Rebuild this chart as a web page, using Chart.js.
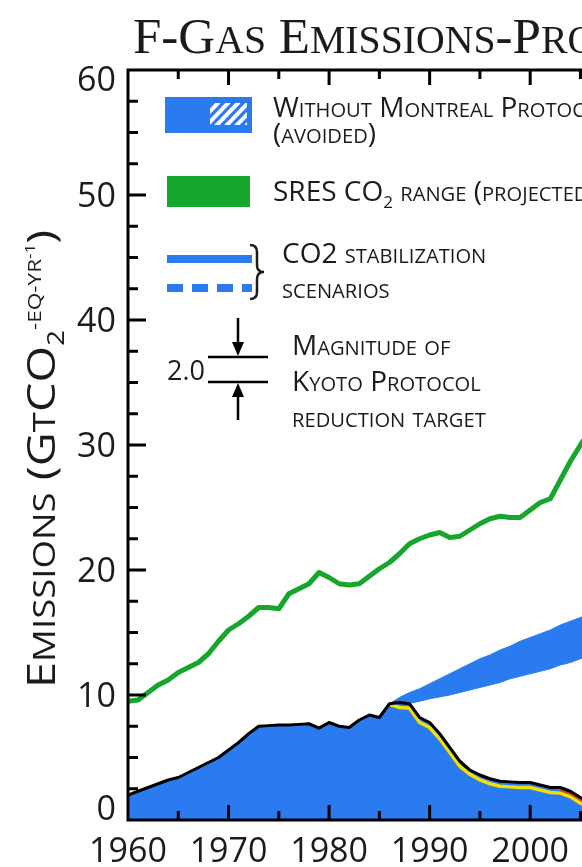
<!DOCTYPE html>
<html>
<head>
<meta charset="utf-8">
<script src="https://cdn.jsdelivr.net/npm/chart.js@4.4.1/dist/chart.umd.min.js"></script>
<style>
html,body{margin:0;padding:0;overflow:hidden;background:#fff;width:582px;height:867px}
#wrap{position:absolute;left:0;top:0;width:700px;height:867px}
</style>
</head>
<body>
<div id="wrap"><canvas id="c" width="700" height="867"></canvas></div>
<script>
// ---------------- data ----------------
const years = [1960,1961,1962,1963,1964,1965,1966,1967,1968,1969,
               1970,1971,1972,1973,1974,1975,1976,1977,1978,1979,
               1980,1981,1982,1983,1984,1985,1986,1987,1988,1989,
               1990,1991,1992,1993,1994,1995,1996,1997,1998,1999,
               2000,2001,2002,2003,2004,2005,2006];

// F-gas emissions (black line, blue area below)
const fgasEmissions = [2.0,2.3,2.6,2.9,3.2,3.4,3.8,4.2,4.6,5.0,
                       5.6,6.2,6.9,7.5,7.55,7.6,7.6,7.65,7.7,7.35,
                       7.8,7.5,7.4,8.0,8.4,8.2,9.3,9.4,9.3,8.2,
                       7.8,6.9,5.8,4.7,4.0,3.6,3.3,3.1,3.05,3.0,
                       3.0,2.8,2.6,2.6,2.3,1.8,1.4];

// yellow line (below the black one after the Montreal Protocol)
const withProtocol = [null,null,null,null,null,null,null,null,null,null,
                      null,null,null,null,null,null,null,null,null,null,
                      null,null,null,null,null,null,9.25,9.0,8.95,7.8,
                      7.4,6.5,5.4,4.3,3.65,3.2,2.9,2.7,2.65,2.6,
                      2.6,2.4,2.2,2.15,1.85,1.35,1.0];

// thin red line at the end
const redLine = [null,null,null,null,null,null,null,null,null,null,
                 null,null,null,null,null,null,null,null,null,null,
                 null,null,null,null,null,null,null,null,null,null,
                 null,null,null,null,null,null,null,null,null,null,
                 null,null,null,2.4,2.1,1.6,1.2];

// blue band: without Montreal Protocol (avoided)
const avoidedUpper = [null,null,null,null,null,null,null,null,null,null,
                      null,null,null,null,null,null,null,null,null,null,
                      null,null,null,null,null,null,9.3,9.8,10.2,10.5,
                      10.9,11.3,11.7,12.1,12.5,12.9,13.2,13.6,13.9,14.3,
                      14.6,14.9,15.2,15.6,15.9,16.2,16.6];
const avoidedLower = [null,null,null,null,null,null,null,null,null,null,
                      null,null,null,null,null,null,null,null,null,null,
                      null,null,null,null,null,null,9.3,9.35,9.35,9.5,
                      9.7,9.85,10.0,10.2,10.4,10.6,10.8,11.0,11.3,11.5,
                      11.7,11.9,12.1,12.4,12.6,12.9,13.2];

// green line: CO2 emissions
const co2Emissions = [9.5,9.6,10.2,10.8,11.2,11.8,12.2,12.6,13.3,14.3,
                      15.2,15.7,16.3,17.0,17.0,16.9,18.1,18.5,18.9,19.8,
                      19.4,18.9,18.8,18.9,19.5,20.1,20.6,21.3,22.1,22.5,
                      22.8,23.0,22.6,22.7,23.2,23.7,24.1,24.3,24.2,24.2,
                      24.8,25.4,25.7,27.2,28.7,30.0,31.2];

const xTickLabels = [1960,1970,1980,1990,2000,2010];
const yTickLabels = [0,10,20,30,40,50,60];

// ---------------- styles ----------------
const BLUE = '#2a7bef', GREEN = '#16a62b', YELLOW = '#f3e000', RED = '#d8401c';
const SANS = '"Open Sans", "DejaVu Sans", sans-serif';
const SERIF = '"Liberation Serif", "DejaVu Serif", serif';
const INK = '#1b1b1b';

const pts = arr => years.map((y,i)=>({x:y, y:arr[i]}));

// ---------------- text helpers ----------------
function scRuns(str, big, ratio, dy){
  const runs=[];
  for(const ch of str){
    const small=/[a-z]/.test(ch);
    const s = small? big*ratio : big;
    const t = small? ch.toUpperCase() : ch;
    const last=runs[runs.length-1];
    if(last && last.s===s && last.dy===(dy||0)) last.t+=t; else runs.push({t, s, dy:dy||0});
  }
  return runs;
}
function runsWidth(ctx, runs, fam){
  let w=0; for(const r of runs){ ctx.font=`${r.s}px ${fam}`; w+=ctx.measureText(r.t).width; } return w;
}
function drawRuns(ctx, runs, x, y, fam){
  let cx=x;
  for(const r of runs){ ctx.font=`${r.s}px ${fam}`; ctx.fillText(r.t, cx, y+r.dy); cx+=ctx.measureText(r.t).width; }
  return cx-x;
}

// ---------------- decoration plugin ----------------
const deco = {
  id:'deco',
  afterDraw(chart){
    const ctx=chart.ctx, xs=chart.scales.x, ys=chart.scales.y, a=chart.chartArea;
    ctx.save();
    // frame
    ctx.strokeStyle='#000'; ctx.lineWidth=3; ctx.lineCap='square';
    ctx.beginPath();
    ctx.moveTo(a.left,a.bottom); ctx.lineTo(a.left,a.top); ctx.lineTo(a.right,a.top); ctx.lineTo(a.right,a.bottom); ctx.closePath();
    ctx.stroke();
    ctx.lineCap='butt';
    // x ticks (inward) every 5 years
    for(let yr=xs.min+5; yr<xs.max; yr+=5){
      const px=xs.getPixelForValue(yr);
      const L=(yr%10===0)?15:9;
      ctx.beginPath();
      ctx.moveTo(px,a.bottom); ctx.lineTo(px,a.bottom-L);
      ctx.moveTo(px,a.top); ctx.lineTo(px,a.top+L);
      ctx.stroke();
    }
    // y ticks (inward) every 2.5
    for(let v=2.5; v<ys.max; v+=2.5){
      const py=ys.getPixelForValue(v);
      const L=(v%10===0)?18:10;
      ctx.beginPath();
      ctx.moveTo(a.left,py); ctx.lineTo(a.left+L,py);
      ctx.moveTo(a.right,py); ctx.lineTo(a.right-L,py);
      ctx.stroke();
    }
    // tick labels
    ctx.fillStyle=INK;
    ctx.font=`34px ${SANS}`;
    ctx.textAlign='center'; ctx.textBaseline='alphabetic';
    for(const t of xTickLabels){ ctx.fillText(String(t), xs.getPixelForValue(t), 862); }
    ctx.textAlign='right';
    for(const t of yTickLabels){
      let cy=ys.getPixelForValue(t);
      if(t===ys.min) cy-=12;
      if(t===ys.max) cy+=9;
      ctx.fillText(String(t), a.left-12, cy+12);
    }
    ctx.textAlign='left';

    // chart title
    const tRuns=scRuns('F-Gas Emissions-Projections', 51, 0.78);
    drawRuns(ctx, tRuns, 133, 53, SERIF);

    // y axis title (rotated), fitted to its length in the reference
    const f=39;
    const yRuns=[
      ...scRuns('Emissions (Gt', f, 0.78),
      {t:'CO', s:f, dy:0},
      {t:'2', s:f*0.6, dy:f*0.22},
      {t:'-EQ-YR', s:f*0.48, dy:-f*0.36},
      {t:'-1', s:f*0.36, dy:-f*0.52},
      {t:')', s:f, dy:0}
    ];
    ctx.save();
    ctx.translate(55, 459);
    ctx.rotate(-Math.PI/2);
    const yw=runsWidth(ctx,yRuns,SANS);
    const sx=458/yw;
    ctx.scale(sx,1);
    drawRuns(ctx, yRuns, -yw/2, 0, SANS);
    ctx.restore();

    // ---------- legend ----------
    const LF=28, R=0.72;
    // blue box with hatch
    ctx.fillStyle=BLUE; ctx.fillRect(165,97,87,36);
    ctx.save();
    ctx.beginPath(); ctx.rect(210,103,37,22); ctx.clip();
    ctx.strokeStyle='#fff'; ctx.lineWidth=4;
    for(let x0=196; x0<262; x0+=10){ ctx.beginPath(); ctx.moveTo(x0,126); ctx.lineTo(x0+23,102); ctx.stroke(); }
    ctx.restore();
    ctx.fillStyle=INK;
    drawRuns(ctx, scRuns('Without Montreal Protocol', LF, R), 273, 117, SANS);
    drawRuns(ctx, scRuns('(avoided)', LF, R), 273, 143, SANS);
    // green box
    ctx.fillStyle=GREEN; ctx.fillRect(167,176,83,31);
    ctx.fillStyle=INK;
    drawRuns(ctx, [{t:'SRES CO', s:LF, dy:0},{t:'2', s:17, dy:7}, ...scRuns(' range (projected)', LF, R)], 273, 201, SANS);
    // solid and dashed lines
    ctx.fillStyle=BLUE; ctx.fillRect(167,255,85,8);
    ctx.strokeStyle=BLUE; ctx.lineWidth=8; ctx.setLineDash([16,9]);
    ctx.beginPath(); ctx.moveTo(167,288); ctx.lineTo(252,288); ctx.stroke();
    ctx.setLineDash([]);
    // brace
    ctx.strokeStyle=INK; ctx.lineWidth=2.5;
    ctx.beginPath();
    ctx.moveTo(250,245); ctx.quadraticCurveTo(257,245,257,252); ctx.lineTo(257,265);
    ctx.quadraticCurveTo(257,272,264,272); ctx.quadraticCurveTo(257,272,257,279);
    ctx.lineTo(257,292); ctx.quadraticCurveTo(257,299,250,299);
    ctx.stroke();
    ctx.fillStyle=INK;
    drawRuns(ctx, [{t:'CO2', s:LF, dy:0}, ...scRuns(' stabilization', LF, R)], 282, 263, SANS);
    drawRuns(ctx, scRuns('scenarios', LF, R), 282, 298, SANS);
    // Kyoto marker
    ctx.strokeStyle='#000'; ctx.lineWidth=2.5;
    ctx.beginPath();
    ctx.moveTo(208,357); ctx.lineTo(268,357);
    ctx.moveTo(208,382); ctx.lineTo(268,382);
    ctx.moveTo(238,318); ctx.lineTo(238,345);
    ctx.moveTo(238,395); ctx.lineTo(238,420);
    ctx.stroke();
    ctx.fillStyle='#000';
    ctx.beginPath(); ctx.moveTo(232,342); ctx.lineTo(244,342); ctx.lineTo(238,356); ctx.closePath(); ctx.fill();
    ctx.beginPath(); ctx.moveTo(232,397); ctx.lineTo(244,397); ctx.lineTo(238,383); ctx.closePath(); ctx.fill();
    ctx.fillStyle=INK;
    ctx.font=`27px ${SANS}`;
    ctx.textAlign='right'; ctx.fillText('2.0', 205, 380); ctx.textAlign='left';
    drawRuns(ctx, scRuns('Magnitude of', LF, R), 292, 355, SANS);
    drawRuns(ctx, scRuns('Kyoto Protocol', LF, R), 292, 391, SANS);
    drawRuns(ctx, scRuns('reduction target', LF, R), 292, 427, SANS);
    ctx.restore();
  }
};

// ---------------- chart ----------------
const line = (label, arr, color, width, order, extra) => Object.assign({
  label, data: pts(arr), borderColor: color, borderWidth: width, pointRadius: 0,
  tension: 0, fill: false, order, spanGaps: false
}, extra||{});

new Chart(document.getElementById('c'), {
  type: 'line',
  data: {
    datasets: [
      line('F-gas area', fgasEmissions, BLUE, 0, 6, {fill:'origin', backgroundColor: BLUE}),
      line('Without Montreal Protocol upper', avoidedUpper, BLUE, 1, 5, {fill:'+1', backgroundColor: BLUE}),
      line('Without Montreal Protocol lower', avoidedLower, BLUE, 1, 5),
      line('CO2 emissions', co2Emissions, GREEN, 5, 4, {borderJoinStyle:'round', borderCapStyle:'round'}),
      line('With Montreal Protocol', withProtocol, YELLOW, 3.5, 3),
      line('Red', redLine, RED, 2, 2),
      line('F-gas emissions', fgasEmissions, '#000', 3, 1, {borderJoinStyle:'round'})
    ]
  },
  options: {
    responsive: false,
    animation: false,
    devicePixelRatio: 1,
    layout: { padding: { left: 128, top: 70, bottom: 47, right: 19 } },
    plugins: { legend: {display:false}, tooltip: {enabled:false}, title: {display:false} },
    scales: {
      x: { type:'linear', min:1960, max:2015, display:true,
           ticks:{display:false}, grid:{display:false, drawTicks:false}, border:{display:false}, title:{display:false} },
      y: { type:'linear', min:0, max:60, display:true,
           ticks:{display:false}, grid:{display:false, drawTicks:false}, border:{display:false}, title:{display:false} }
    }
  },
  plugins: [deco]
});
</script>
</body>
</html>
